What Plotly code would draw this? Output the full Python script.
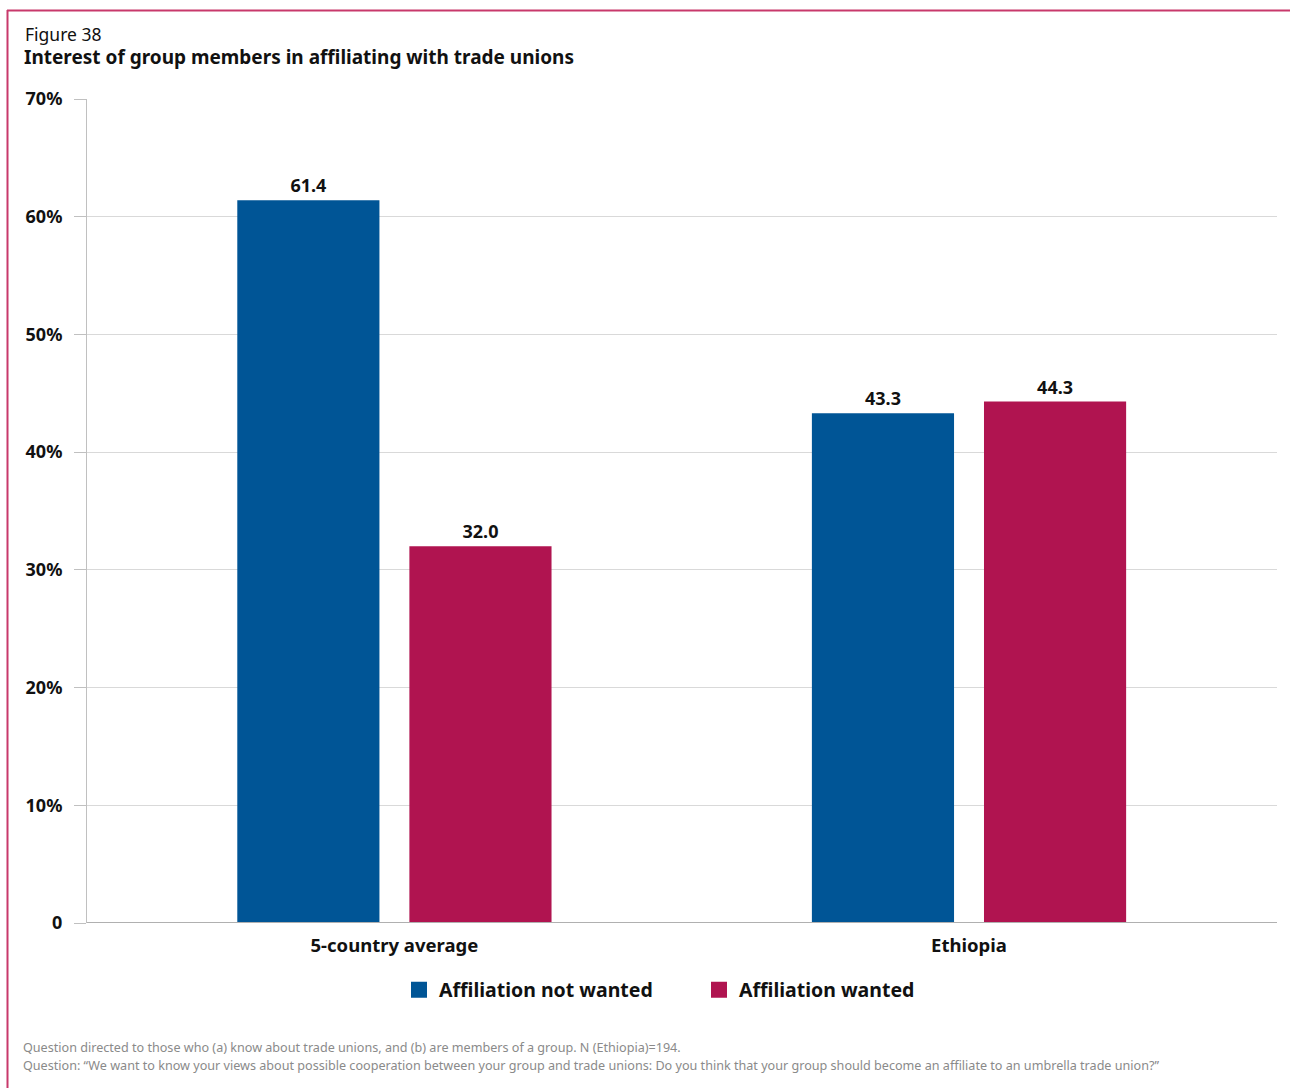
import plotly.graph_objects as go

categories = ["5-country average", "Ethiopia"]
series_names = ["Affiliation not wanted", "Affiliation wanted"]
not_wanted = [61.4, 43.3]
wanted = [32.0, 44.3]
tick_vals = [0, 10, 20, 30, 40, 50, 60, 70]
tick_text = ["0", "10%", "20%", "30%", "40%", "50%", "60%", "70%"]

BLUE = "#005596"
CRIMSON = "#b01450"
FRAME = "#c8396b"
FONT = "Noto Sans"

W, H = 1290, 1088
L, R, T, B = 87, 13, 99, 165
pw, ph = W - L - R, H - T - B


def px(x):
    return (x - L) / pw


def py(y):
    return (H - B - y) / ph


fig = go.Figure()
for name, vals, col in [(series_names[0], not_wanted, BLUE), (series_names[1], wanted, CRIMSON)]:
    fig.add_trace(go.Bar(
        x=categories, y=vals, name=name, marker=dict(color=col, line=dict(width=0)),
        texttemplate="%{y:.1f}", textposition="outside", cliponaxis=False,
        textfont=dict(family=FONT, size=18, color="#111111", weight="bold"),
        hoverinfo="skip", showlegend=False, legendgroup=name,
    ))
# legend keys drawn as larger square markers
for name, col in [(series_names[0], BLUE), (series_names[1], CRIMSON)]:
    fig.add_trace(go.Scatter(
        x=[None], y=[None], mode="markers", name=name, legendgroup=name,
        marker=dict(symbol="square", size=16, color=col, line=dict(width=0)),
        hoverinfo="skip",
    ))

fig.update_layout(
    width=W, height=H,
    margin=dict(l=L, r=R, t=T, b=B, pad=0),
    paper_bgcolor="white", plot_bgcolor="white",
    barmode="group", bargap=0.401, bargroupgap=0.174,
    font=dict(family=FONT, color="#111111"),
    showlegend=True,
    legend=dict(
        orientation="h", x=px(399), xanchor="left", y=py(990), yanchor="middle",
        font=dict(family=FONT, size=19.5, color="#111111", weight="bold"),
        entrywidth=255, entrywidthmode="pixels", traceorder="normal",
        bgcolor="rgba(0,0,0,0)",
    ),
    xaxis=dict(
        type="category", range=[-0.535, 1.536],
        showgrid=False, showline=False, ticks="",
        tickfont=dict(family=FONT, size=18.5, color="#111111", weight="bold"),
        ticklabelstandoff=9, zeroline=False,
    ),
    yaxis=dict(
        range=[0, 70], tickvals=tick_vals, ticktext=tick_text,
        showgrid=True, gridcolor="#d9d9d9", gridwidth=1,
        showline=True, linecolor="#c0c0c0", linewidth=1,
        ticks="outside", ticklen=12, tickcolor="#c0c0c0", tickwidth=1,
        tickfont=dict(family=FONT, size=18, color="#111111", weight="bold"),
        ticklabelstandoff=8, zeroline=False,
    ),
)

# baseline along the bottom of the plot
fig.add_shape(type="line", xref="paper", yref="y", x0=0, x1=1, y0=0, y1=0,
              line=dict(color="#b0b0b0", width=2), layer="above")

# frame lines on the top and left edges
fig.add_shape(type="line", xref="paper", yref="paper", x0=px(7), x1=px(1290),
              y0=py(10.5), y1=py(10.5), line=dict(color=FRAME, width=2))
fig.add_shape(type="line", xref="paper", yref="paper", x0=px(7.5), x1=px(7.5),
              y0=py(10), y1=py(1088), line=dict(color=FRAME, width=2))

fig.add_annotation(text="Figure 38", xref="paper", yref="paper", x=px(23), y=py(34),
                   xanchor="left", yanchor="middle", showarrow=False,
                   font=dict(family=FONT, size=17.5, color="#111111"))
fig.add_annotation(text="<b>Interest of group members in affiliating with trade unions</b>",
                   xref="paper", yref="paper", x=px(22), y=py(57),
                   xanchor="left", yanchor="middle", showarrow=False,
                   font=dict(family=FONT, size=19, color="#111111"))

notes = [
    "Question directed to those who (a) know about trade unions, and (b) are members of a group. N (Ethiopia)=194.",
    "Question: \u201cWe want to know your views about possible cooperation between your group and trade unions: Do you think that your group should become an affiliate to an umbrella trade union?\u201d",
]
for i, line in enumerate(notes):
    fig.add_annotation(text=line, xref="paper", yref="paper", x=px(21), y=py(1047 + 18 * i),
                       xanchor="left", yanchor="middle", showarrow=False,
                       font=dict(family=FONT, size=12.6, color="#8a8a8a"))

fig.write_html("out.html")
